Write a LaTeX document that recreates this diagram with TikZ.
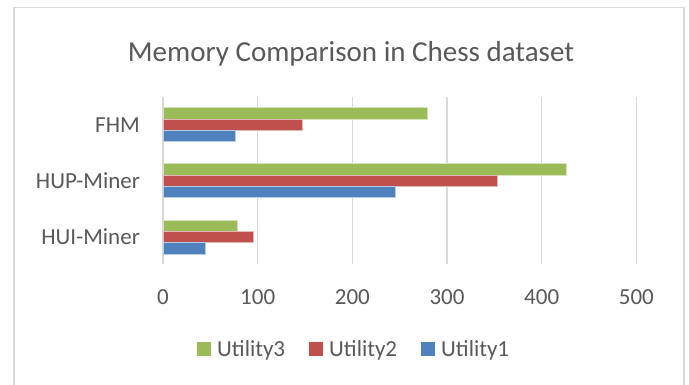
\documentclass[tikz,border=0pt]{standalone}
\usepackage{fontspec}
\setmainfont{Carlito}
\definecolor{gU3}{HTML}{9BBB59}
\definecolor{gU2}{HTML}{C0504D}
\definecolor{gU1}{HTML}{4F81BD}
\definecolor{gridc}{HTML}{D9D9D9}
\definecolor{txtc}{HTML}{595959}
\begin{document}
\begin{tikzpicture}[x=1pt,y=-1pt,
  lbl/.style={inner sep=0pt,text=txtc,font=\fontsize{23}{26}\selectfont},
  ttl/.style={inner sep=0pt,text=txtc,font=\fontsize{29}{32}\selectfont},
  gridline/.style={draw=gridc,line width=1.5pt},
  barU3/.style={fill=gU3,draw=white!60!gU3,line width=0.6pt},
  barU2/.style={fill=gU2,draw=white!60!gU2,line width=0.6pt},
  barU1/.style={fill=gU1,draw=white!60!gU1,line width=0.6pt},
  legsq/.style={minimum width=13.5pt,minimum height=14pt,inner sep=0pt}]
\useasboundingbox (0,0) rectangle (689,385);
\fill[white] (0,0) rectangle (689,385);
\begin{scope}
\clip (0,0) rectangle (689,385);
\draw[draw=gridc,line width=1.2pt] (14,400) -- (14,7.5) -- (684,7.5) -- (684,400);
\end{scope}
% title
\node[ttl,anchor=base] (title) at (351,62) {Memory Comparison in Chess dataset};
% gridlines and axis labels
\foreach \v/\n in {0/a,100/b,200/c,300/d,400/e,500/f}{
  \coordinate (gt\n) at ({163+0.9468*\v},97);
  \coordinate (gb\n) at ({163+0.9468*\v},264);
  \draw[gridline] (gt\n) -- (gb\n);
  \node[lbl,anchor=base] (ax\n) at ({163+0.9468*\v},305) {\v};
}
% bars
\newcommand{\barrow}[4]{% top y, U3, U2, U1
  \draw[barU3] (163,#1) rectangle ({163+0.9468*#2},#1+11.3);
  \draw[barU2] (163,#1+11.3) rectangle ({163+0.9468*#3},#1+22.6);
  \draw[barU1] (163,#1+22.6) rectangle ({163+0.9468*#4},#1+33.9);
}
\barrow{107.8}{279}{147}{76}
\barrow{163.7}{426}{353}{245}
\barrow{220}{79}{95}{45}
% category labels
\node[lbl,anchor=base east] (fhm) at (140,132.3) {FHM};
\node[lbl,anchor=base east] (hup) at (140,188.2) {HUP-Miner};
\node[lbl,anchor=base east] (hui) at (140,244.3) {HUI-Miner};
% legend
\node[legsq,fill=gU3] (l3) at (204,349.2) {};
\node[lbl,anchor=base west] (t3) at (217,356.5) {Utility3};
\node[legsq,fill=gU2] (l2) at (316.2,349.2) {};
\node[lbl,anchor=base west] (t2) at (329,356.5) {Utility2};
\node[legsq,fill=gU1] (l1) at (428,349.2) {};
\node[lbl,anchor=base west] (t1) at (441,356.5) {Utility1};
\end{tikzpicture}
\end{document}
